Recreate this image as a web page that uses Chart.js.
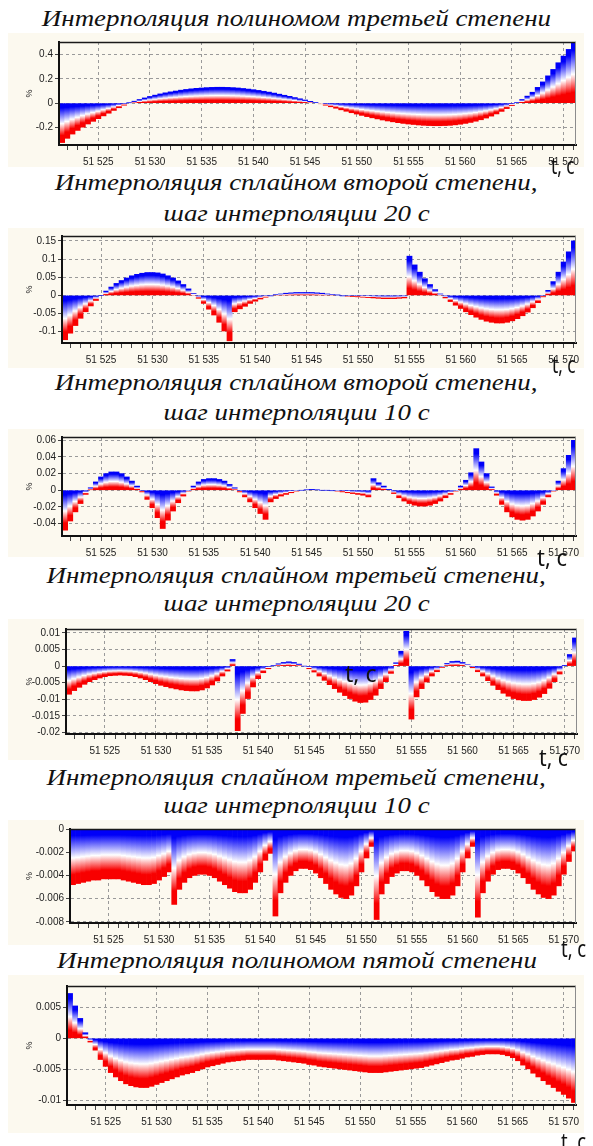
<!DOCTYPE html>
<html>
<head>
<meta charset="utf-8">
<script src="https://cdn.jsdelivr.net/npm/chart.js@4.4.1/dist/chart.umd.min.js"></script>
<style>
  body { margin: 0; background: #fff; width: 593px; height: 1146px; position: relative; overflow: hidden; }
  .title { position: absolute; left: 0; width: 593px; text-align: center; white-space: nowrap;
           font: italic 23px/23px "Liberation Serif", "Times New Roman", serif; color: #111; z-index: 1; }
  .title span { display: inline-block; transform-origin: 50% 50%; }
  .tc { position: absolute; font: 23px/23px "Noto Sans", "Open Sans", sans-serif; color: #111; white-space: nowrap;
        z-index: 2; transform-origin: 0 50%; }
  canvas { position: absolute; left: 8px; background: #fcf9ef; }
</style>
</head>
<body>
<div class="title" id="t1" style="top:7px"><span>Интерполяция полиномом третьей степени</span></div>
<canvas id="c1" width="576" height="134" style="top:33px"></canvas>
<div class="tc" style="left:551px;top:154px;transform:scaleX(0.75)">t, c</div>

<div class="title" style="top:171px"><span>Интерполяция сплайном второй степени,</span></div>
<div class="title" style="top:202px"><span>шаг интерполяции 20 с</span></div>
<canvas id="c2" width="576" height="140" style="top:228px"></canvas>
<div class="tc" style="left:552px;top:353px;transform:scaleX(0.75)">t, c</div>

<div class="title" style="top:371px"><span>Интерполяция сплайном второй степени,</span></div>
<div class="title" style="top:401px"><span>шаг интерполяции 10 с</span></div>
<canvas id="c3" width="576" height="128" style="top:429px"></canvas>
<div class="tc" style="left:537px;top:546px;transform:scaleX(0.95)">t, c</div>

<div class="title" style="top:564px"><span>Интерполяция сплайном третьей степени,</span></div>
<div class="title" style="top:592px"><span>шаг интерполяции 20 с</span></div>
<canvas id="c4" width="576" height="141" style="top:619px"></canvas>
<div class="tc" style="left:345px;top:662px;transform:scaleX(1)">t, c</div>
<div class="tc" style="left:539px;top:746px;transform:scaleX(0.92)">t, c</div>

<div class="title" style="top:766px"><span>Интерполяция сплайном третьей степени,</span></div>
<div class="title" style="top:794px"><span>шаг интерполяции 10 с</span></div>
<canvas id="c5" width="576" height="125" style="top:820px"></canvas>
<div class="tc" style="left:561px;top:937px;transform:scaleX(0.8)">t, c</div>

<div class="title" style="top:949px"><span>Интерполяция полиномом пятой степени</span></div>
<canvas id="c6" width="576" height="158" style="top:975px"></canvas>
<div class="tc" style="left:561px;top:1130px;transform:scaleX(0.8)">t, c</div>

<script>
// time axis, seconds
const xMin = 51521.2;
const xMax = 51571.2;
const xMajorTicks = [51525, 51530, 51535, 51540, 51545, 51550, 51555, 51560, 51565, 51570];

// sample times: every 0.5 s from 51521.5 to 51571.0
const times = [];
for (let i = 0; i < 100; i++) times.push(51521.5 + i * 0.5);

// error, % (10 values per 5 s)
const cubicPoly = [
  -0.325, -0.29, -0.255, -0.225, -0.198, -0.172, -0.15, -0.128, -0.105, -0.083,
  -0.06, -0.038, -0.017, 0.003, 0.016, 0.03, 0.043, 0.055, 0.066, 0.076,
  0.085, 0.093, 0.1, 0.107, 0.113, 0.118, 0.122, 0.125, 0.128, 0.13,
  0.131, 0.131, 0.13, 0.128, 0.125, 0.121, 0.116, 0.111, 0.105, 0.098,
  0.091, 0.083, 0.074, 0.065, 0.056, 0.046, 0.036, 0.026, 0.015, 0.005,
  -0.005, -0.017, -0.03, -0.042, -0.055, -0.067, -0.079, -0.09, -0.101, -0.111,
  -0.121, -0.13, -0.139, -0.147, -0.154, -0.161, -0.167, -0.172, -0.176, -0.18,
  -0.183, -0.185, -0.186, -0.186, -0.185, -0.183, -0.179, -0.174, -0.167, -0.159,
  -0.149, -0.137, -0.123, -0.107, -0.089, -0.068, -0.045, -0.02, 0.005, 0.03,
  0.058, 0.09, 0.13, 0.175, 0.225, 0.278, 0.333, 0.388, 0.443, 0.495
];
const quadSpline20 = [
  -0.122, -0.104, -0.083, -0.063, -0.045, -0.029, -0.014, 0, 0.012, 0.023,
  0.033, 0.041, 0.048, 0.054, 0.058, 0.061, 0.063, 0.063, 0.062, 0.059,
  0.054, 0.048, 0.04, 0.03, 0.018, 0.005, -0.008, -0.022, -0.038, -0.054,
  -0.074, -0.098, -0.125, -0.045, -0.037, -0.03, -0.022, -0.016, -0.01, -0.005,
  -0.001, 0.002, 0.004, 0.006, 0.007, 0.008, 0.008, 0.008, 0.008, 0.007,
  0.006, 0.004, 0.002, 0.001, -0.001, -0.002, -0.003, -0.004, -0.005, -0.006,
  -0.007, -0.008, -0.009, -0.009, -0.009, -0.008, -0.007, 0.108, 0.084, 0.064,
  0.046, 0.03, 0.016, 0.004, -0.007, -0.017, -0.027, -0.036, -0.045, -0.053,
  -0.06, -0.066, -0.071, -0.074, -0.076, -0.076, -0.074, -0.07, -0.064, -0.056,
  -0.046, -0.034, -0.02, -0.004, 0.014, 0.038, 0.064, 0.092, 0.12, 0.15
];
const quadSpline10 = [
  -0.048, -0.037, -0.026, -0.016, -0.005, 0.003, 0.01, 0.016, 0.02, 0.022,
  0.022, 0.02, 0.016, 0.011, 0.005, -0.002, -0.011, -0.021, -0.033, -0.046,
  -0.036, -0.025, -0.015, -0.007, -0.001, 0.005, 0.01, 0.013, 0.014, 0.014,
  0.013, 0.011, 0.007, 0.003, -0.002, -0.008, -0.014, -0.021, -0.028, -0.035,
  -0.014, -0.01, -0.007, -0.005, -0.003, -0.001, 0, 0.0005, 0.001, 0.0005,
  0, 0, -0.0005, -0.001, -0.002, -0.003, -0.004, -0.005, -0.006, -0.008,
  0.014, 0.009, 0.005, 0.001, -0.004, -0.009, -0.013, -0.016, -0.018, -0.019,
  -0.019, -0.018, -0.016, -0.013, -0.009, -0.005, -0.001, 0.005, 0.012, 0.021,
  0.05, 0.034, 0.02, 0.004, -0.006, -0.017, -0.026, -0.032, -0.035, -0.036,
  -0.035, -0.031, -0.025, -0.017, -0.008, -0.001, 0.011, 0.026, 0.042, 0.06
];
const cubicSpline20 = [
  -0.0085, -0.0074, -0.0064, -0.0055, -0.0047, -0.0041, -0.0036, -0.0032, -0.0029, -0.0028,
  -0.0027, -0.0028, -0.0029, -0.0032, -0.0036, -0.0041, -0.0047, -0.0053, -0.0058, -0.0062,
  -0.0066, -0.0069, -0.0072, -0.0074, -0.0075, -0.0075, -0.0072, -0.0066, -0.0057, -0.0045,
  -0.003, -0.0015, 0.002, -0.0195, -0.0143, -0.0098, -0.0063, -0.0038, -0.002, -0.0008,
  0.0001, 0.0007, 0.0011, 0.0013, 0.0011, 0.0006, 0, -0.0008, -0.0018, -0.003,
  -0.0043, -0.0056, -0.0068, -0.0079, -0.0089, -0.0098, -0.0106, -0.011, -0.0109, -0.0101,
  -0.0088, -0.0068, -0.0047, -0.0022, 0.001, 0.0045, 0.0105, -0.016, -0.0093, -0.0068,
  -0.0048, -0.003, -0.0017, -0.0004, 0.0008, 0.0014, 0.0015, 0.0011, 0.0004, -0.0005,
  -0.0017, -0.003, -0.0044, -0.0058, -0.0071, -0.0082, -0.0091, -0.0098, -0.0102, -0.0104,
  -0.0104, -0.0101, -0.0094, -0.0083, -0.0067, -0.0047, -0.0024, 0.0002, 0.0035, 0.0085
];
const cubicSpline10 = [
  -0.0048, -0.0047, -0.0046, -0.0045, -0.0044, -0.0044, -0.0043, -0.0043, -0.0043, -0.0043,
  -0.0044, -0.0045, -0.0046, -0.0047, -0.0048, -0.0048, -0.0047, -0.0044, -0.0041, -0.0037,
  -0.0065, -0.0052, -0.0046, -0.0042, -0.004, -0.0039, -0.0039, -0.004, -0.0042, -0.0045,
  -0.0048, -0.0051, -0.0054, -0.0055, -0.0055, -0.0052, -0.0046, -0.0037, -0.0027, -0.0021,
  -0.0075, -0.0055, -0.0046, -0.004, -0.0036, -0.0034, -0.0034, -0.0035, -0.0038, -0.0042,
  -0.0047, -0.0052, -0.0056, -0.0059, -0.006, -0.0057, -0.0049, -0.0037, -0.0025, -0.0015,
  -0.0078, -0.0056, -0.0047, -0.0041, -0.0038, -0.0036, -0.0036, -0.0037, -0.004, -0.0044,
  -0.0049, -0.0054, -0.0058, -0.006, -0.006, -0.0057, -0.0049, -0.0037, -0.0025, -0.0015,
  -0.0076, -0.0055, -0.0045, -0.0039, -0.0035, -0.0034, -0.0034, -0.0035, -0.0038, -0.0042,
  -0.0047, -0.0052, -0.0056, -0.0059, -0.006, -0.0057, -0.0049, -0.0039, -0.0028, -0.0019
];
const quinticPoly = [
  0.0072, 0.0052, 0.0032, 0.0009, -0.0006, -0.0019, -0.0034, -0.0045, -0.0055, -0.0062,
  -0.0068, -0.0073, -0.0076, -0.0078, -0.0079, -0.0079, -0.0077, -0.0074, -0.0071, -0.0068,
  -0.0065, -0.0062, -0.0059, -0.0057, -0.0055, -0.0052, -0.0049, -0.0046, -0.0044, -0.0042,
  -0.004, -0.0038, -0.0037, -0.0036, -0.0035, -0.0034, -0.0034, -0.0034, -0.0034, -0.0034,
  -0.0034, -0.0035, -0.0036, -0.0037, -0.0038, -0.0039, -0.004, -0.0042, -0.0043, -0.0045,
  -0.0046, -0.0047, -0.0048, -0.0049, -0.005, -0.0051, -0.0052, -0.0053, -0.0054, -0.0055,
  -0.0055, -0.0055, -0.0054, -0.0053, -0.0052, -0.0051, -0.005, -0.0049, -0.0048, -0.0047,
  -0.0045, -0.0043, -0.0041, -0.0039, -0.0037, -0.0035, -0.0034, -0.0032, -0.003, -0.0029,
  -0.0027, -0.0026, -0.0025, -0.0025, -0.0025, -0.0026, -0.0028, -0.0031, -0.0036, -0.0043,
  -0.0049, -0.0056, -0.0062, -0.0068, -0.0074, -0.0079, -0.0085, -0.009, -0.0096, -0.0103
];

// y tick labels of each panel
const yTicks1 = [0.4, 0.2, 0, -0.2];
const yTicks2 = [0.15, 0.1, 0.05, 0, -0.05, -0.1];
const yTicks3 = [0.06, 0.04, 0.02, 0, -0.02, -0.04];
const yTicks4 = [0.01, 0.005, 0, -0.005, -0.01, -0.015, -0.02];
const yTicks5 = [0, -0.002, -0.004, -0.006, -0.008];
const yTicks6 = [0.005, 0, -0.005, -0.01];

const tickFont = { family: '"Liberation Sans Narrow", "Arial Narrow", "Liberation Sans", sans-serif', size: 10 };
const creamLeft = 8, creamRight = 584;

// minor tick every second inside the axis range
const xMinorTicks = [];
for (let s = Math.ceil(xMin); s <= xMax; s++) xMinorTicks.push(s);

function fmtTime(v) {
  return Math.floor(v / 1000) + ' ' + String(v % 1000).padStart(3, '0');
}

// every bar: blue at its top, white in the middle, red at its bottom
function barFill(c) {
  const chart = c.chart;
  const ys = chart.scales.y;
  if (c.type !== 'data' || !ys) return '#0000f8';
  const v = c.raw;
  const top = ys.getPixelForValue(Math.max(v, 0));
  const bot = ys.getPixelForValue(Math.min(v, 0));
  if (!isFinite(top) || !isFinite(bot) || bot - top < 0.5) return '#0000f8';
  const g = chart.ctx.createLinearGradient(0, top, 0, bot);
  g.addColorStop(0, '#0000f8');
  g.addColorStop(0.12, '#0000f8');
  g.addColorStop(0.52, '#ffffff');
  g.addColorStop(0.82, '#f80000');
  g.addColorStop(1, '#f80000');
  return g;
}

// top and right edges of the plot box
const framePlugin = {
  id: 'frame',
  afterDraw(chart) {
    const { ctx, chartArea: a } = chart;
    ctx.save();
    ctx.strokeStyle = '#1a1a1a';
    ctx.lineWidth = 1.5;
    ctx.beginPath();
    ctx.moveTo(a.left, a.top + 0.5);
    ctx.lineTo(a.right, a.top + 0.5);
    ctx.stroke();
    ctx.strokeStyle = '#8c8c8c';
    ctx.lineWidth = 1;
    ctx.beginPath();
    ctx.moveTo(a.right - 0.5, a.top);
    ctx.lineTo(a.right - 0.5, a.bottom);
    ctx.stroke();
    ctx.restore();
  }
};

function drawPanel(id, values, yMin, yMax, yTicks, box) {
  new Chart(document.getElementById(id), {
    type: 'bar',
    data: {
      labels: times,
      datasets: [{
        data: values,
        backgroundColor: barFill,
        borderWidth: 0,
        barPercentage: 1,
        categoryPercentage: 1
      }]
    },
    options: {
      responsive: false,
      animation: false,
      devicePixelRatio: 1,
      layout: { padding: { left: 0, top: box.plotTop - box.top, right: creamRight - box.plotRight, bottom: 0 } },
      plugins: { legend: { display: false }, tooltip: { enabled: false } },
      scales: {
        x: {
          type: 'linear',
          min: xMin,
          max: xMax,
          offset: false,
          afterBuildTicks: s => { s.ticks = xMinorTicks.map(v => ({ value: v })); },
          afterFit: s => { s.height = box.bottom - box.plotBottom; },
          ticks: {
            autoSkip: false, maxRotation: 0, minRotation: 0, padding: 6,
            font: tickFont, color: '#222',
            callback: v => (xMajorTicks.includes(v) ? fmtTime(v) : '')
          },
          grid: {
            offset: false,
            color: c => (c.tick && xMajorTicks.includes(c.tick.value) ? '#9a9a9a' : 'rgba(0,0,0,0)'),
            tickColor: '#444',
            tickLength: 5
          },
          border: { color: '#111', width: 2, dash: [3, 3], z: 1 }
        },
        y: {
          min: yMin,
          max: yMax,
          afterBuildTicks: s => { s.ticks = yTicks.map(v => ({ value: v })); },
          afterFit: s => { s.width = box.plotLeft - creamLeft; },
          ticks: { padding: 2, font: tickFont, color: '#222', callback: v => String(v) },
          grid: { color: '#9a9a9a', tickColor: '#444', tickLength: 4 },
          border: { color: '#111', width: 2, dash: [3, 3], z: 1 },
          title: { display: true, text: '%', color: '#222', font: { size: 9 }, padding: { top: 16.6, bottom: 0 } }
        }
      }
    },
    plugins: [framePlugin]
  });
}

drawPanel('c1', cubicPoly, -0.345, 0.504, yTicks1, { top: 33, bottom: 167, plotTop: 42, plotBottom: 145, plotLeft: 59, plotRight: 576 });
drawPanel('c2', quadSpline20, -0.131, 0.1635, yTicks2, { top: 228, bottom: 368, plotTop: 236, plotBottom: 343, plotLeft: 62, plotRight: 576 });
drawPanel('c3', quadSpline10, -0.055, 0.064, yTicks3, { top: 429, bottom: 557, plotTop: 437, plotBottom: 536, plotLeft: 62, plotRight: 576 });
drawPanel('c4', cubicSpline20, -0.0205, 0.0112, yTicks4, { top: 619, bottom: 760, plotTop: 629, plotBottom: 734, plotLeft: 66, plotRight: 577 });
drawPanel('c5', cubicSpline10, -0.0081, 0, yTicks5, { top: 820, bottom: 945, plotTop: 829, plotBottom: 923, plotLeft: 70, plotRight: 576 });
drawPanel('c6', quinticPoly, -0.0107, 0.0084, yTicks6, { top: 975, bottom: 1133, plotTop: 986, plotBottom: 1105, plotLeft: 67, plotRight: 576 });

// titles are wide in the picture: stretch them all by the same factor
const refWidth = document.querySelector('#t1 span').getBoundingClientRect().width;
const k = 509 / refWidth;
document.querySelectorAll('.title span').forEach(s => { s.style.transform = 'scaleX(' + k.toFixed(3) + ')'; });
</script>
</body>
</html>
